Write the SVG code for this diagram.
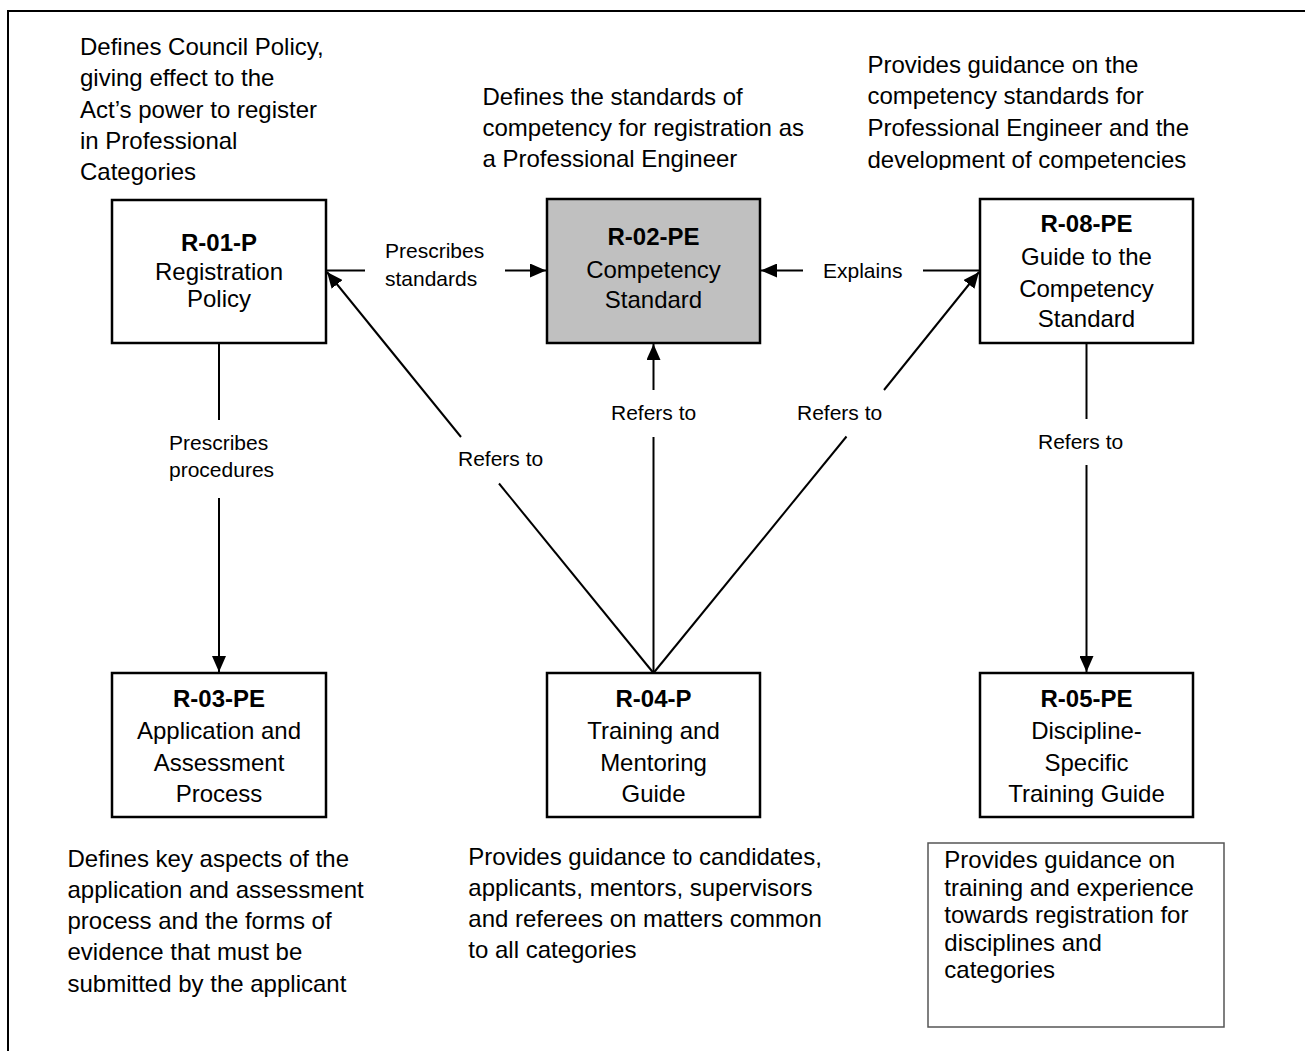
<svg xmlns="http://www.w3.org/2000/svg" width="1305" height="1051" viewBox="0 0 1305 1051">
<style>
text{font-family:"Liberation Sans",Arial,sans-serif;fill:#000}
.desc{font-size:24px}
.node rect{fill:#fff;stroke:#000;stroke-width:2.5}
.node text{font-size:24px;text-anchor:middle}
.node .hd{font-weight:bold}
.conn line{stroke:#000;stroke-width:2;fill:none}
.lbl{font-size:21px}
</style>
<defs>
<marker id="ah" markerUnits="userSpaceOnUse" markerWidth="16" markerHeight="14" refX="16" refY="7" orient="auto" viewBox="0 0 16 14">
<path d="M0,0 L16,7 L0,14 z" fill="#000"/>
</marker>
<clipPath id="clipTR"><rect x="850" y="30" width="400" height="140"/></clipPath>
</defs>
<rect x="8" y="11" width="1310" height="1060" fill="#fff" stroke="#000" stroke-width="2"/>

<g id="desc-r01" class="desc"><text x="80" y="55">Defines Council Policy,</text><text x="80" y="86.3">giving effect to the</text><text x="80" y="117.6">Act’s power to register</text><text x="80" y="148.9">in Professional</text><text x="80" y="180.2">Categories</text></g>
<g id="desc-r02" class="desc"><text x="482.5" y="105">Defines the standards of</text><text x="482.5" y="136.2">competency for registration as</text><text x="482.5" y="167.4">a Professional Engineer</text></g>
<g id="desc-r08" class="desc" clip-path="url(#clipTR)"><text x="867.5" y="72.7">Provides guidance on the</text><text x="867.5" y="104.3">competency standards for</text><text x="867.5" y="135.9">Professional Engineer and the</text><text x="867.5" y="167.5">development of competencies</text></g>
<g id="desc-r03" class="desc"><text x="67.5" y="866.7">Defines key aspects of the</text><text x="67.5" y="897.9">application and assessment</text><text x="67.5" y="929.1">process and the forms of</text><text x="67.5" y="960.3">evidence that must be</text><text x="67.5" y="991.5">submitted by the applicant</text></g>
<g id="desc-r04" class="desc"><text x="468.3" y="865">Provides guidance to candidates,</text><text x="468.3" y="896.1">applicants, mentors, supervisors</text><text x="468.3" y="927.2">and referees on matters common</text><text x="468.3" y="958.3">to all categories</text></g>
<g id="desc-r05"><rect x="928" y="843" width="296" height="184" fill="#fff" stroke="#555" stroke-width="1.5"/><g class="desc"><text x="944.3" y="868.3">Provides guidance on</text><text x="944.3" y="895.8">training and experience</text><text x="944.3" y="923.3">towards registration for</text><text x="944.3" y="950.8">disciplines and</text><text x="944.3" y="978.3">categories</text></g></g>

<g id="node-r01" class="node"><rect x="112" y="200" width="214" height="143"/><text class="hd" x="219" y="251">R-01-P</text><text x="219" y="279.5">Registration</text><text x="219" y="306.5">Policy</text></g>
<g id="node-r02" class="node"><rect x="547" y="199" width="213" height="144" style="fill:#c0c0c0"/><text class="hd" x="653.5" y="245">R-02-PE</text><text x="653.5" y="278">Competency</text><text x="653.5" y="308.3">Standard</text></g>
<g id="node-r08" class="node"><rect x="980" y="199" width="213" height="144"/><text class="hd" x="1086.5" y="232">R-08-PE</text><text x="1086.5" y="264.5">Guide to the</text><text x="1086.5" y="296.5">Competency</text><text x="1086.5" y="327">Standard</text></g>
<g id="node-r03" class="node"><rect x="112" y="673" width="214" height="144"/><text class="hd" x="219" y="706.7">R-03-PE</text><text x="219" y="739">Application and</text><text x="219" y="770.7">Assessment</text><text x="219" y="801.7">Process</text></g>
<g id="node-r04" class="node"><rect x="547" y="673" width="213" height="144"/><text class="hd" x="653.5" y="706.7">R-04-P</text><text x="653.5" y="739">Training and</text><text x="653.5" y="770.7">Mentoring</text><text x="653.5" y="801.7">Guide</text></g>
<g id="node-r05" class="node"><rect x="980" y="673" width="213" height="144"/><text class="hd" x="1086.5" y="706.7">R-05-PE</text><text x="1086.5" y="739">Discipline-</text><text x="1086.5" y="770.7">Specific</text><text x="1086.5" y="801.7">Training Guide</text></g>

<g id="connectors" class="conn">
<line x1="327" y1="270.5" x2="365" y2="270.5"/><line x1="505" y1="270.5" x2="546" y2="270.5" marker-end="url(#ah)"/>
<text class="lbl" x="385" y="257.5">Prescribes</text><text class="lbl" x="385" y="285.5">standards</text>
<line x1="979" y1="270.5" x2="923" y2="270.5"/><line x1="803" y1="270.5" x2="761" y2="270.5" marker-end="url(#ah)"/>
<text class="lbl" x="823" y="277.5">Explains</text>
<line x1="219" y1="344" x2="219" y2="420"/><line x1="219" y1="498" x2="219" y2="672" marker-end="url(#ah)"/>
<text class="lbl" x="169" y="449.5">Prescribes</text><text class="lbl" x="169" y="477">procedures</text>
<line x1="653.5" y1="673" x2="653.5" y2="437"/><line x1="653.5" y1="390" x2="653.5" y2="344" marker-end="url(#ah)"/>
<text class="lbl" x="611" y="420">Refers to</text>
<line x1="653.5" y1="673" x2="499" y2="483.5"/><line x1="461" y1="437" x2="327" y2="272" marker-end="url(#ah)"/>
<text class="lbl" x="458" y="466">Refers to</text>
<line x1="653.5" y1="673" x2="846.5" y2="436.5"/><line x1="884" y1="390" x2="979" y2="272" marker-end="url(#ah)"/>
<text class="lbl" x="797" y="420">Refers to</text>
<line x1="1086.5" y1="344" x2="1086.5" y2="419"/><line x1="1086.5" y1="465" x2="1086.5" y2="672" marker-end="url(#ah)"/>
<text class="lbl" x="1038" y="448.5">Refers to</text>
</g>
</svg>
